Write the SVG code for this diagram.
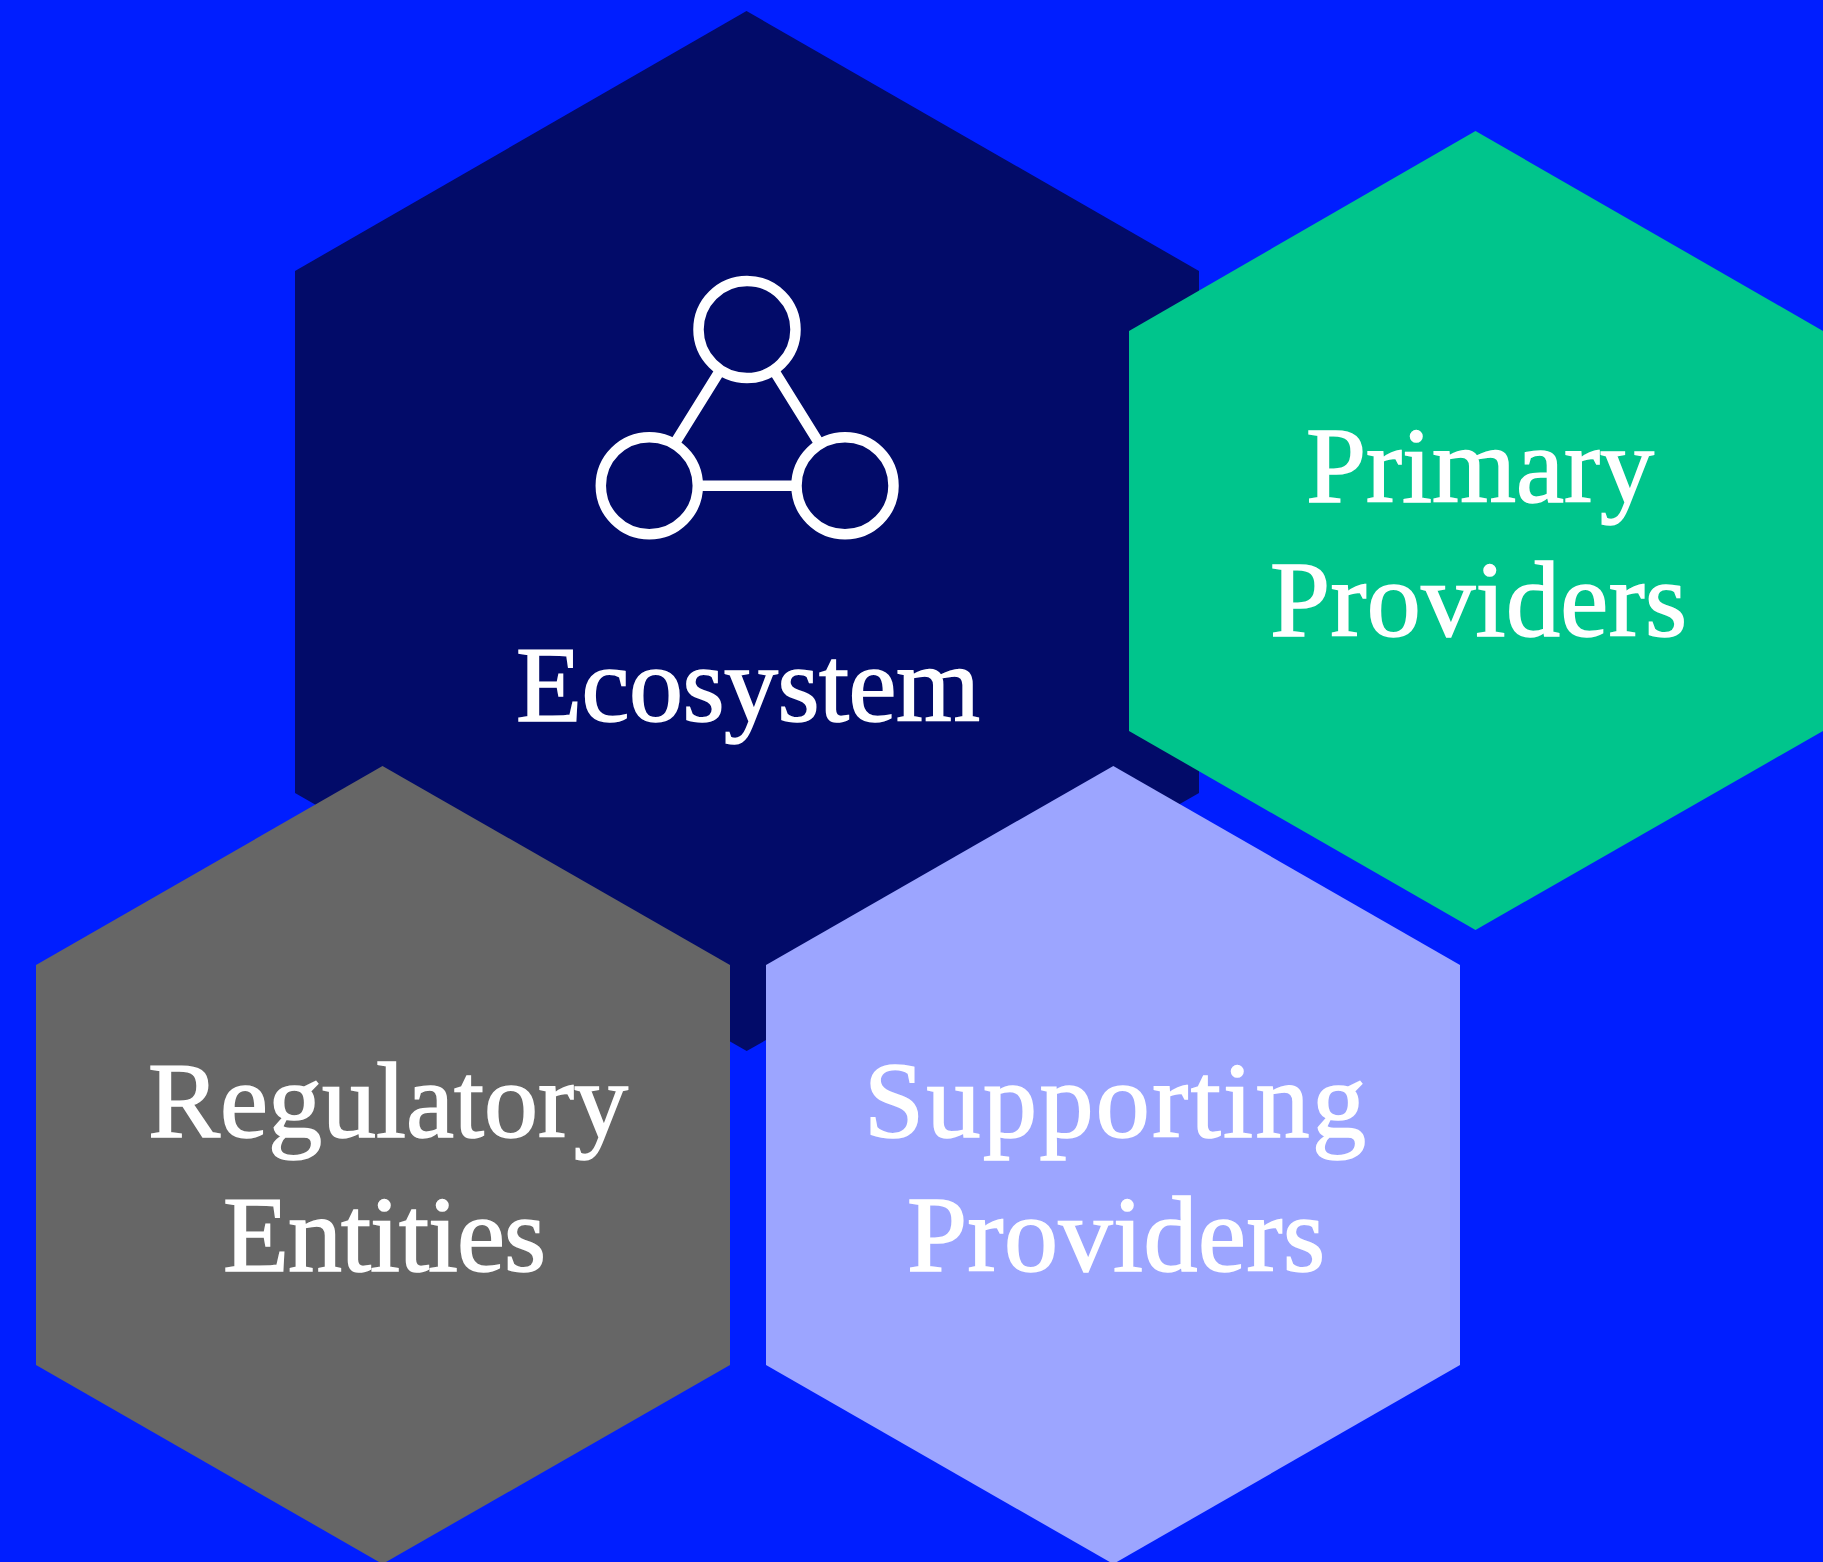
<svg xmlns="http://www.w3.org/2000/svg" width="1823" height="1562" viewBox="0 0 1823 1562">
<style>
text{font-family:"Liberation Serif",serif;font-size:108px;fill:#fff;stroke:#fff;stroke-width:1.6px;text-anchor:middle}
.ic{fill:none;stroke:#fff;stroke-width:10.5}
</style>
<rect width="1823" height="1562" fill="#001eff"/>
<g id="ecosystem">
<polygon points="746.5,11 1199,271 1199,793 746.7,1051 295,793 295,271" fill="#020b69"/>
<circle class="ic" cx="747" cy="329.5" r="48.5"/>
<circle class="ic" cx="649.3" cy="485.7" r="48.5"/>
<circle class="ic" cx="845" cy="485.7" r="48.5"/>
<path class="ic" d="M721 369L675 443M773 369L819 443M697 485.7H797"/>
<text x="748" y="720.5" textLength="464">Ecosystem</text>
</g>
<g id="primary-providers">
<polygon points="1475.5,131 1823,331 1823,731 1475.5,930 1129,731 1129,331" fill="#00c58c"/>
<text x="1480" y="502" textLength="348">Primary</text>
<text x="1478.5" y="635.5" textLength="417">Providers</text>
</g>
<g id="regulatory-entities">
<polygon points="382.5,766 730,965 730,1365 382.5,1564 36,1365 36,965" fill="#666666"/>
<text x="388" y="1137" textLength="480">Regulatory</text>
<text x="384.5" y="1270.5" textLength="323">Entities</text>
</g>
<g id="supporting-providers">
<polygon points="1113.3,766 1460,965 1460,1365 1113.3,1564 766,1365 766,965" fill="#9ca5ff"/>
<text x="1115" y="1137" textLength="502">Supporting</text>
<text x="1116" y="1270.5" textLength="418">Providers</text>
</g>
<g id="connectors"></g>
</svg>
